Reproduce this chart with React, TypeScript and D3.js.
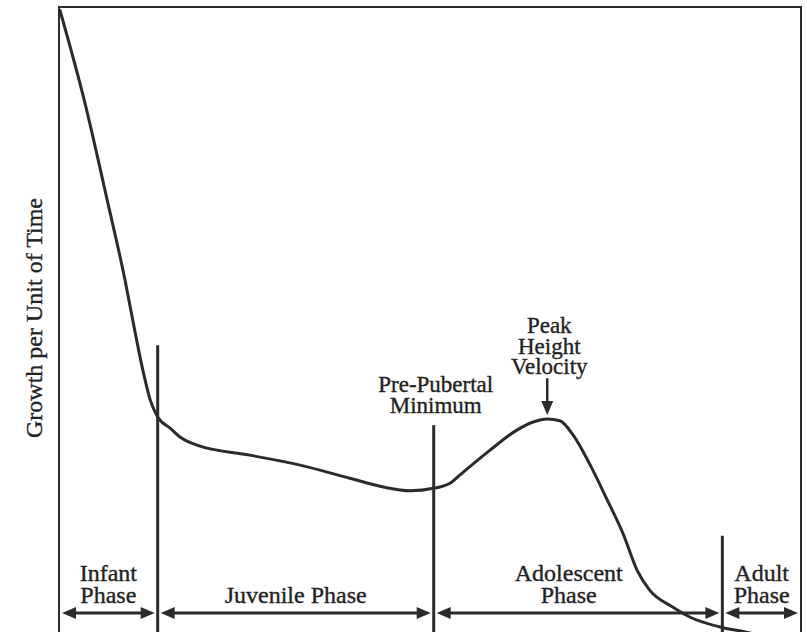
import * as d3 from "d3";

const W = 807;
const H = 632;

// growth curve (x: share of life span 0-100, y: growth 0-100)
const curveAge = [
  0.1, 3.4, 6.5, 8.9, 10.2, 11.3, 12.3, 13.3, 15.0, 16.3, 18.6, 25.7, 32.5,
  39.2, 43.7, 47.3, 50.5, 52.7, 54.0, 58.1, 61.7, 63.9, 65.8, 67.5, 69.3,
  71.6, 73.9, 76.0, 77.9, 79.6, 82.7, 85.0, 89.1, 92.5, 94.0,
];
const curveGrowth = [
  99.6, 85.1, 69.1, 56.3, 48.3, 41.9, 37.1, 34.4, 32.6, 31.2, 29.9, 28.3,
  26.7, 24.6, 23.2, 22.6, 23.0, 23.8, 25.1, 29.1, 32.3, 33.6, 34.1, 33.8,
  31.5, 26.7, 21.1, 15.8, 9.9, 6.7, 4.0, 2.4, 0.8, 0.0, -0.4,
];

// phases
const phaseBounds = [0, 13.3, 50.5, 89.4, 100];
const phaseLabels = [["Infant", "Phase"], ["Juvenile Phase"], ["Adolescent", "Phase"], ["Adult", "Phase"]];
const phaseLabelX = [6.65, 31.9, 68.7, 94.7];
const dividerTop = [45.9, 33.1, 15.4];

// annotations
const preMinLabel = ["Pre-Pubertal", "Minimum"];
const peakLabel = ["Peak", "Height", "Velocity"];
const peakAge = 65.8;
const peakArrowFrom = 40.6;
const peakArrowTo = 34.4;

const ink = "#2b2b2b";
const serif = "Liberation Serif";

const x = d3.scaleLinear().domain([0, 100]).range([59, 801]);
const y = d3.scaleLinear().domain([0, 100]).range([H, 7]);

const line = d3
  .line<number>()
  .x((_, i) => x(curveAge[i]))
  .y((d) => y(d))
  .curve(d3.curveMonotoneX);

const head = 14;
const half = 6;

function DoubleArrow({ x1, x2, yy }: { x1: number; x2: number; yy: number }) {
  return (
    <g fill={ink}>
      <line x1={x1 + head - 2} x2={x2 - head + 2} y1={yy} y2={yy} stroke={ink} strokeWidth={3} />
      <path d={`M${x1},${yy} L${x1 + head},${yy - half} L${x1 + head},${yy + half} Z`} />
      <path d={`M${x2},${yy} L${x2 - head},${yy - half} L${x2 - head},${yy + half} Z`} />
    </g>
  );
}

// shared text look: slightly heavy serif
const txt = { fontFamily: serif, fill: "#222", stroke: "#222", strokeWidth: 0.35 };

export default function App() {
  const arrowY = H - 19;
  const gap = 3;

  return (
    <svg
      width={W}
      height={H}
      style={{ position: "absolute", left: 0, top: 0, display: "block", background: "#fff" }}
    >
      {/* frame: left, top, right */}
      <path
        d={`M${x(0)},${H} L${x(0)},${y(100)} L${x(100)},${y(100)} L${x(100)},${H}`}
        fill="none"
        stroke={ink}
        strokeWidth={2}
      />

      {/* y axis title */}
      <text transform={`translate(42,${318}) rotate(-90)`} textAnchor="middle" fontSize={24} {...txt}>
        Growth per Unit of Time
      </text>

      {/* phase dividers */}
      {dividerTop.map((t, i) => (
        <line
          key={i}
          x1={x(phaseBounds[i + 1])}
          x2={x(phaseBounds[i + 1])}
          y1={y(t)}
          y2={H}
          stroke={ink}
          strokeWidth={3}
        />
      ))}

      {/* growth curve */}
      <path d={line(curveGrowth) ?? ""} fill="none" stroke={ink} strokeWidth={3} strokeLinejoin="round" />

      {/* phase arrows and labels */}
      {phaseLabels.map((lines, i) => {
        const x1 = x(phaseBounds[i]) + gap;
        const x2 = x(phaseBounds[i + 1]) - gap;
        return (
          <g key={i}>
            <DoubleArrow x1={x1} x2={x2} yy={arrowY} />
            {lines.map((s, j) => (
              <text
                key={j}
                x={x(phaseLabelX[i])}
                y={arrowY - 10 - (lines.length - 1 - j) * 22}
                textAnchor="middle"
                fontSize={24}
                {...txt}
              >
                {s}
              </text>
            ))}
          </g>
        );
      })}

      {/* pre-pubertal minimum */}
      {preMinLabel.map((s, j) => (
        <text key={s} x={x(phaseBounds[2]) + 2} y={392 + j * 21} textAnchor="middle" fontSize={23} {...txt}>
          {s}
        </text>
      ))}

      {/* peak height velocity */}
      {peakLabel.map((s, j) => (
        <text key={s} x={x(peakAge) + 2} y={333 + j * 20.5} textAnchor="middle" fontSize={23} {...txt}>
          {s}
        </text>
      ))}
      <g fill={ink}>
        <line
          x1={x(peakAge)}
          x2={x(peakAge)}
          y1={y(peakArrowFrom)}
          y2={y(peakArrowTo) - head + 2}
          stroke={ink}
          strokeWidth={2.5}
        />
        <path
          d={`M${x(peakAge)},${y(peakArrowTo) - 2} L${x(peakAge) - half},${y(peakArrowTo) - 2 - head} L${x(peakAge) + half},${y(peakArrowTo) - 2 - head} Z`}
        />
      </g>
    </svg>
  );
}
